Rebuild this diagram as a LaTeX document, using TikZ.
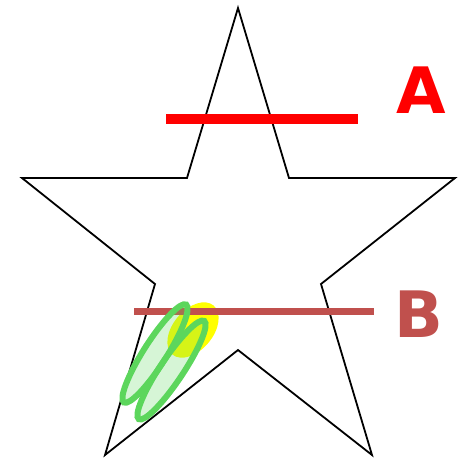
\documentclass[tikz,border=0pt]{standalone}
\usepackage{fontspec}
\newfontfamily\labelfont{DejaVu Sans}
\definecolor{lineA}{RGB}{255,0,0}
\definecolor{lineB}{RGB}{192,80,77}
\definecolor{scribble}{RGB}{92,214,92}
\definecolor{hilite}{RGB}{255,255,0}
\tikzset{
  starline/.style={draw=black, line width=1.8pt, line join=miter},
  barA/.style={draw=lineA, line width=10pt},
  barB/.style={draw=lineB, line width=7pt},
  loopstroke/.style={draw=scribble, line width=6pt, fill=scribble, fill opacity=0.25, draw opacity=1},
  biglabel/.style={font=\labelfont\bfseries\fontsize{64}{64}\selectfont, anchor=base, inner sep=0pt},
}
\begin{document}
\begin{tikzpicture}[x=1pt,y=-1pt]
\useasboundingbox (0,0) rectangle (462,459);
% star
\draw[starline] (238,8) -- (289,178) -- (455,178) -- (321,284) -- (372,455)
  -- (238,350) -- (105,455) -- (155,284) -- (22,178) -- (187,178) -- cycle;
% line A
\coordinate (a1) at (166,119);
\coordinate (a2) at (358,119);
\draw[barA] (a1) -- (a2);
\node[biglabel, text=lineA] (labA) at (421,113) {A};
% yellow highlight
\begin{scope}[shift={(193,330)}, rotate=50]
\fill[hilite] (0,0) ellipse [x radius=32, y radius=20];
\end{scope}
% line B
\coordinate (b1) at (134,311);
\coordinate (b2) at (374,311);
\draw[barB] (b1) -- (b2);
\node[biglabel, text=lineB] (labB) at (419,337) {B};
% green scribble loops
\begin{scope}[shift={(155,353.5)}, rotate=57.5]
\draw[loopstroke] (0,0) ellipse [x radius=58, y radius=11.5];
\end{scope}
\begin{scope}[shift={(171.5,370)}, rotate=56.3]
\draw[loopstroke] (0,0) ellipse [x radius=59, y radius=11.5];
\end{scope}
\end{tikzpicture}
\end{document}
